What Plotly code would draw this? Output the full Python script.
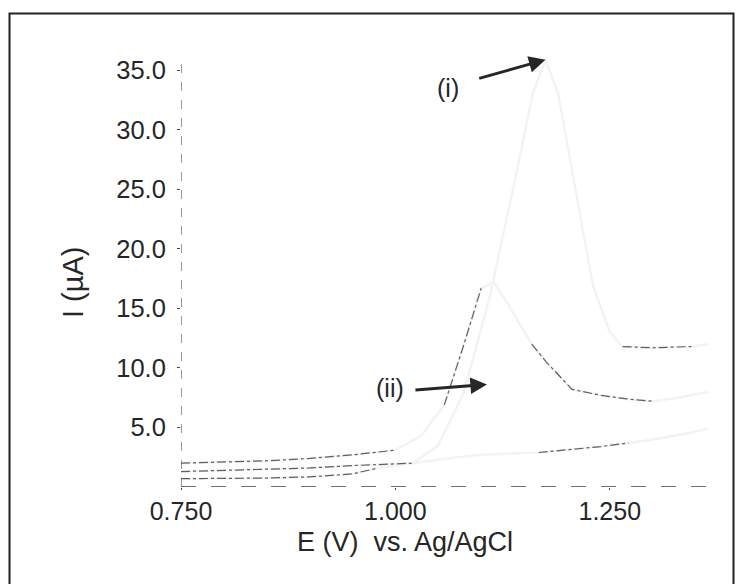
import plotly.graph_objects as go

# ---------------- data ----------------
E_i = [0.75, 0.80, 0.85, 0.90, 0.95, 1.00, 1.02, 1.05, 1.08, 1.11, 1.14, 1.16, 1.175,
       1.19, 1.21, 1.23, 1.25, 1.265, 1.30, 1.345, 1.365]
I_i = [1.3, 1.4, 1.5, 1.6, 1.8, 1.95, 2.0, 3.5, 8.0, 16.0, 26.0, 33.0, 35.9,
       33.0, 25.0, 17.0, 13.0, 11.8, 11.7, 11.8, 12.0]
seen_i = [(0.75, 1.02), (1.265, 1.345)]

E_ii = [0.75, 0.80, 0.85, 0.90, 0.95, 1.00, 1.03, 1.057, 1.08, 1.10, 1.115, 1.13,
        1.159, 1.176, 1.206, 1.24, 1.27, 1.30, 1.33, 1.365]
I_ii = [2.0, 2.1, 2.2, 2.4, 2.7, 3.1, 4.3, 6.9, 12.0, 16.7, 17.2, 15.5,
        12.0, 10.5, 8.2, 7.7, 7.4, 7.2, 7.5, 8.0]
seen_ii = [(0.75, 1.0), (1.057, 1.10), (1.159, 1.176), (1.206, 1.30)]

E_bg = [0.75, 0.80, 0.85, 0.90, 0.95, 0.98, 1.02, 1.06, 1.10, 1.14, 1.167, 1.20,
        1.24, 1.272, 1.30, 1.34, 1.365]
I_bg = [0.7, 0.7, 0.75, 0.85, 1.1, 1.6, 2.0, 2.4, 2.7, 2.8, 2.9, 3.1,
        3.4, 3.7, 4.0, 4.5, 4.9]
seen_bg = [(0.75, 0.98), (1.167, 1.272)]

x_ticks = [0.75, 1.0, 1.25]
x_ticklabels = ["0.750", "1.000", "1.250"]
y_ticks = [5, 10, 15, 20, 25, 30, 35]
y_ticklabels = ["5.0", "10.0", "15.0", "20.0", "25.0", "30.0", "35.0"]

x_range = [0.75, 1.368]
y_range = [0, 36.3]

FONT = "Liberation Sans"
INK = "#262626"


def visible(E, I, ranges):
    return [v if any(a <= e <= b for a, b in ranges) else None for e, v in zip(E, I)]


fig = go.Figure()

# faint full scans (almost washed out in the scan)
for E, I in [(E_i, I_i), (E_ii, I_ii), (E_bg, I_bg)]:
    fig.add_trace(go.Scatter(x=E, y=I, mode="lines", line=dict(color="#f3f3f3", width=2.5),
                             hoverinfo="skip", showlegend=False))

# visible dark fragments
for E, I, rng in [(E_i, I_i, seen_i), (E_ii, I_ii, seen_ii), (E_bg, I_bg, seen_bg)]:
    fig.add_trace(go.Scatter(x=E, y=visible(E, I, rng), mode="lines", connectgaps=False,
                             line=dict(color="#606060", width=1.2, dash="dashdot"),
                             showlegend=False))

# axis lines (broken / dashed in the original)
fig.add_shape(type="line", xref="x", yref="y domain", x0=0.75, x1=0.75, y0=0, y1=1,
              line=dict(color="#555555", width=1.2, dash="dash"))
fig.add_shape(type="line", xref="x domain", yref="y", x0=0, x1=1, y0=0, y1=0,
              line=dict(color="#444444", width=1.4, dash="longdash"))

# outer frame
L, R, T, B = 181, 27, 55, 97
W, H = 738, 584
pw, ph = W - L - R, H - T - B
base = H - B
fig.add_shape(type="rect", xref="paper", yref="paper",
              x0=(9.5 - L) / pw, x1=(733.5 - L) / pw,
              y0=(base - 600) / ph, y1=(base - 13.5) / ph,
              line=dict(color="#222222", width=2))


def label(px, py, text, size, angle=0):
    fig.add_annotation(x=(px - L) / pw, y=(base - py) / ph, xref="paper", yref="paper",
                       xanchor="center", yanchor="middle", text=text, textangle=angle,
                       showarrow=False, font=dict(family=FONT, size=size, color=INK))


# arrows and labels
fig.add_annotation(x=1.175, y=35.9, ax=1.096, ay=34.3, axref="x", ayref="y",
                   xref="x", yref="y", text="", showarrow=True,
                   arrowhead=2, arrowsize=1.1, arrowwidth=3, arrowcolor=INK)
fig.add_annotation(x=1.1067, y=8.62, ax=1.0216, ay=8.14, axref="x", ayref="y",
                   xref="x", yref="y", text="", showarrow=True,
                   arrowhead=2, arrowsize=1.1, arrowwidth=3, arrowcolor=INK)
label(448, 88, "(i)", 25)
label(389.7, 388, "(ii)", 25)

# axis titles
label(404.8, 542, "E (V)  vs. Ag/AgCl", 27)
label(73, 283, "I (µA)", 29, angle=-90)

fig.update_xaxes(range=x_range, tickvals=x_ticks, ticktext=x_ticklabels,
                 showgrid=False, zeroline=False, showline=False,
                 ticks="outside", ticklen=2, tickcolor="#444444",
                 tickfont=dict(family=FONT, size=25, color=INK))
fig.update_yaxes(range=y_range, tickvals=y_ticks, ticktext=y_ticklabels,
                 showgrid=False, zeroline=False, showline=False,
                 ticks="outside", ticklen=3, tickcolor="#444444", ticklabelstandoff=6,
                 tickfont=dict(family=FONT, size=25.5, color=INK))

fig.update_layout(width=W, height=H, margin=dict(l=L, r=R, t=T, b=B),
                  paper_bgcolor="white", plot_bgcolor="white")

fig.write_html("out.html")
